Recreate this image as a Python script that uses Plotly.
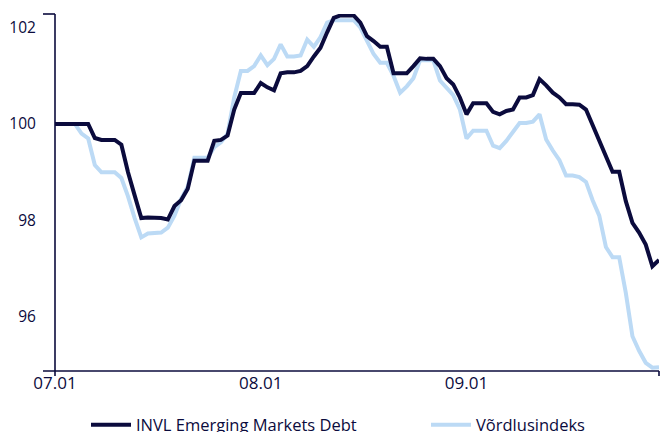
import pandas as pd
import plotly.graph_objects as go

# Daily observations, 1 July - 30 September
dates = pd.date_range("2024-07-01", "2024-09-30", freq="D")

fund_name = "INVL Emerging Markets Debt"
bench_name = "Võrdlusindeks"

fund = [
    100.0, 100.0, 100.0, 100.0, 100.0, 100.0, 99.71, 99.67, 99.67, 99.67,
    99.57, 99.0, 98.52, 98.05, 98.06, 98.06, 98.05, 98.02, 98.3, 98.42,
    98.66, 99.24, 99.24, 99.24, 99.65, 99.67, 99.76, 100.3, 100.64, 100.64,
    100.64, 100.85, 100.76, 100.7, 101.05, 101.07, 101.07, 101.1, 101.2, 101.4,
    101.58, 101.9, 102.2, 102.25, 102.25, 102.25, 102.1, 101.82, 101.72, 101.6,
    101.6, 101.05, 101.05, 101.05, 101.2, 101.36, 101.35, 101.35, 101.2, 100.95,
    100.82, 100.55, 100.2, 100.43, 100.43, 100.43, 100.25, 100.2, 100.27, 100.3,
    100.55, 100.55, 100.6, 100.93, 100.8, 100.65, 100.55, 100.41, 100.41, 100.4,
    100.3, 99.97, 99.65, 99.3, 99.01, 99.01, 98.4, 97.95, 97.75, 97.5,
    97.05, 97.18,
]

bench = [
    100.0, 100.0, 100.0, 100.0, 99.8, 99.7, 99.15, 99.0, 99.0, 99.0,
    98.88, 98.5, 98.05, 97.65, 97.73, 97.73, 97.75, 97.85, 98.1, 98.45,
    98.7, 99.3, 99.3, 99.3, 99.52, 99.62, 99.8, 100.55, 101.1, 101.1,
    101.2, 101.42, 101.22, 101.35, 101.65, 101.4, 101.4, 101.42, 101.75, 101.6,
    101.8, 102.1, 102.15, 102.15, 102.15, 102.15, 102.0, 101.72, 101.45, 101.27,
    101.27, 101.0, 100.65, 100.78, 100.95, 101.32, 101.32, 101.32, 100.9, 100.75,
    100.6, 100.3, 99.7, 99.86, 99.86, 99.86, 99.55, 99.5, 99.65, 99.85,
    100.02, 100.02, 100.05, 100.2, 99.68, 99.45, 99.25, 98.93, 98.93, 98.9,
    98.8, 98.42, 98.1, 97.45, 97.24, 97.24, 96.5, 95.6, 95.3, 95.05,
    94.95, 94.96,
]

y_ticks = [96, 98, 100, 102]
x_tick_dates = ["2024-07-01", "2024-08-01", "2024-09-01"]
x_tick_labels = ["07.01", "08.01", "09.01"]

NAVY = "#0b0b3d"
LIGHT = "#bcdaf5"
FONT = "Open Sans, Arial, sans-serif"

fig = go.Figure()
fig.add_trace(go.Scatter(x=dates, y=bench, name=bench_name, mode="lines", legend="legend2",
                         line=dict(color=LIGHT, width=4)))
fig.add_trace(go.Scatter(x=dates, y=fund, name=fund_name, mode="lines", legend="legend",
                         line=dict(color=NAVY, width=4)))

W, H = 660, 432
ml, mr, mt, mb = 55, 1, 14, 61
pw, ph = W - ml - mr, H - mt - mb

def px(x):
    return (x - ml) / pw

def py(y):
    return (H - mb - y) / ph

axis_line = dict(color=NAVY, width=1.6)
shapes = [
    dict(type="line", xref="paper", yref="paper", x0=0, x1=0, y0=py(376), y1=py(14), line=axis_line),
    dict(type="line", xref="paper", yref="paper", x0=px(43), x1=0, y0=py(14), y1=py(14), line=axis_line),
    dict(type="line", xref="paper", yref="paper", x0=px(43), x1=px(659), y0=0, y1=0, line=axis_line),
    dict(type="line", xref="paper", yref="paper", x0=px(659), x1=px(659), y0=0, y1=py(376), line=axis_line),
]

legend_common = dict(orientation="h", xanchor="left", yanchor="middle", itemwidth=40,
                     font=dict(size=16.5, color=NAVY), bgcolor="rgba(0,0,0,0)")

fig.update_layout(
    width=W, height=H,
    margin=dict(l=ml, r=mr, t=mt, b=mb, autoexpand=False),
    paper_bgcolor="white", plot_bgcolor="white",
    font=dict(family=FONT, size=15, color=NAVY),
    showlegend=True,
    legend=dict(x=px(86), y=py(425), **legend_common),
    legend2=dict(x=px(426), y=py(425), **legend_common),
    shapes=shapes,
    xaxis=dict(range=["2024-07-01", "2024-09-30"], tickvals=x_tick_dates, ticktext=x_tick_labels,
               showgrid=False, zeroline=False, showline=False, ticks="",
               ticklabelstandoff=0, tickfont=dict(size=17, color=NAVY)),
    yaxis=dict(range=[94.88, 102.28], tickvals=y_ticks, showgrid=False, zeroline=False,
               showline=False, ticks="outside", ticklen=15, tickcolor="rgba(0,0,0,0)",
               tickfont=dict(size=15.5, color=NAVY)),
)

fig.write_html("out.html", config={"displayModeBar": False},
               post_script="document.body.style.margin='0';document.body.style.overflow='hidden';")
